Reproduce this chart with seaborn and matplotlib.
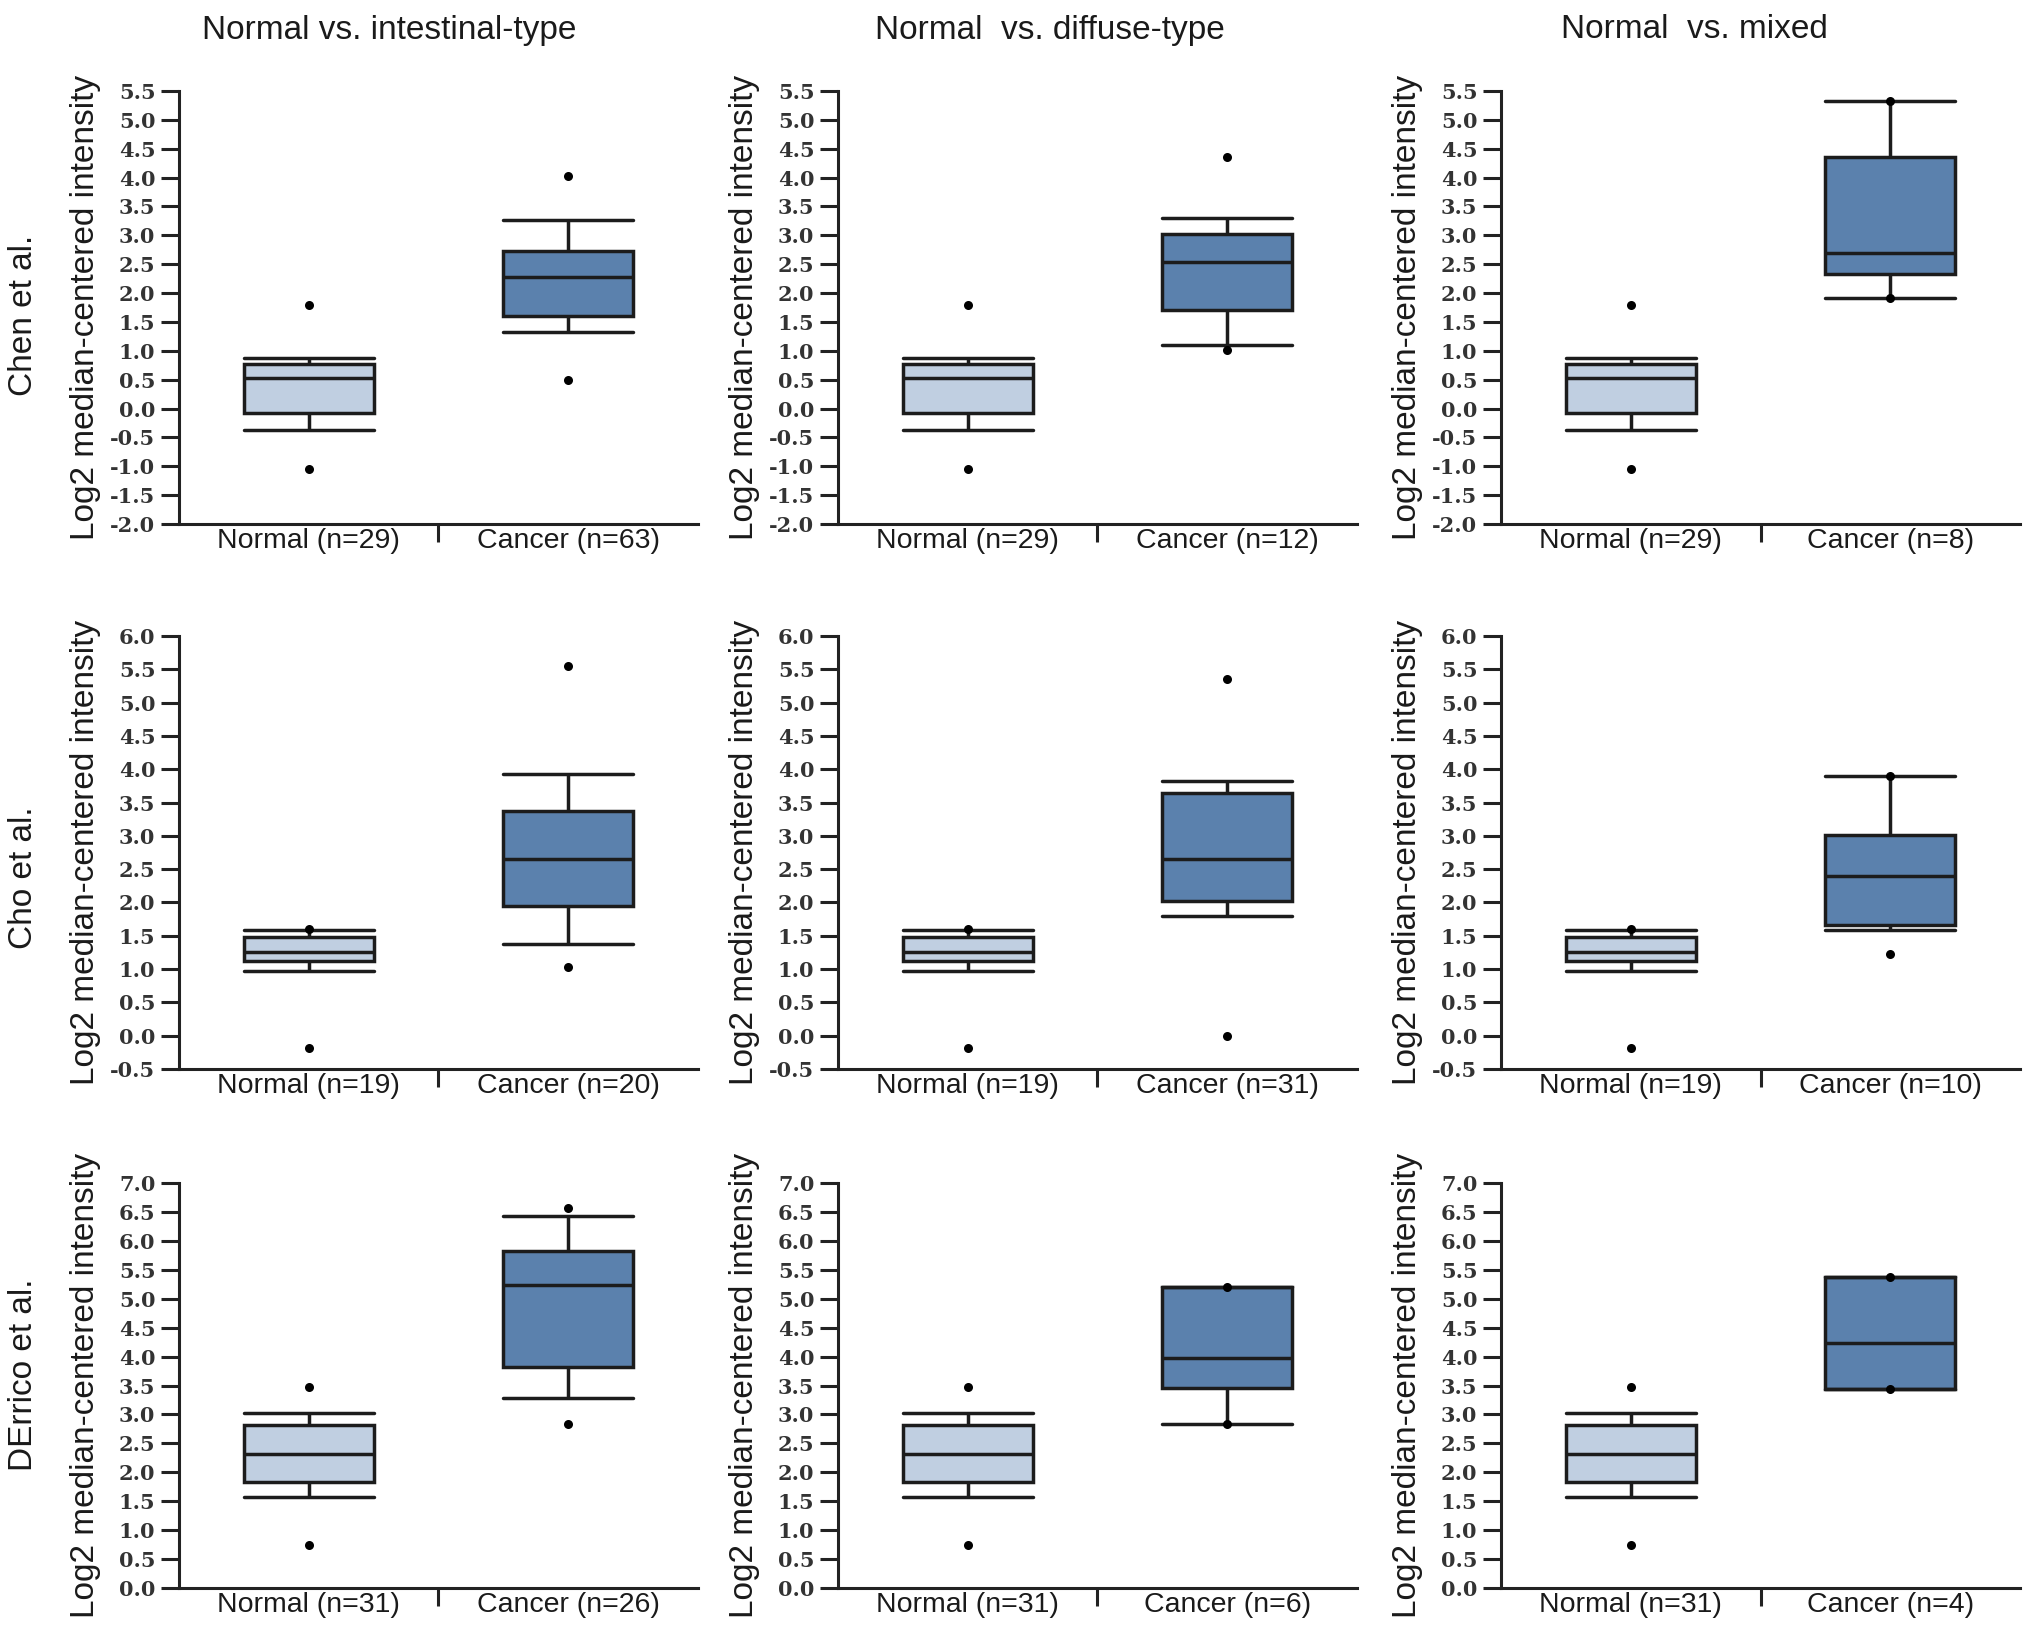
import numpy as np
import pandas as pd
import matplotlib
matplotlib.use("Agg")
import matplotlib.pyplot as plt
import seaborn as sns

# ---------------- data ----------------
groups = ["Normal", "Cancer"]
row_labels = ["Chen et al.", "Cho et al.", "DErrico et al."]
col_titles = ["Normal vs. intestinal-type", "Normal  vs. diffuse-type", "Normal  vs. mixed"]
y_label = "Log2 median-centered intensity"

# box summaries: [whisker low, Q1, median, Q3, whisker high]; extra points drawn as dots
chen_normal = [-0.38, -0.08, 0.53, 0.78, 0.88]
chen_normal_pts = [1.80, -1.05]
chen_intestinal = [1.32, 1.60, 2.27, 2.73, 3.27]
chen_intestinal_pts = [4.03, 0.50]
chen_diffuse = [1.10, 1.70, 2.54, 3.02, 3.30]
chen_diffuse_pts = [4.35, 1.02]
chen_mixed = [1.92, 2.33, 2.69, 4.35, 5.33]
chen_mixed_pts = [5.33, 1.92]

cho_normal = [0.97, 1.12, 1.26, 1.48, 1.58]
cho_normal_pts = [1.60, -0.19]
cho_intestinal = [1.37, 1.95, 2.65, 3.38, 3.93]
cho_intestinal_pts = [5.55, 1.03]
cho_diffuse = [1.80, 2.02, 2.65, 3.65, 3.83]
cho_diffuse_pts = [5.36, -0.01]
cho_mixed = [1.59, 1.66, 2.39, 3.02, 3.90]
cho_mixed_pts = [3.90, 1.22]

derrico_normal = [1.57, 1.84, 2.31, 2.81, 3.02]
derrico_normal_pts = [3.48, 0.75]
derrico_intestinal = [3.28, 3.82, 5.24, 5.83, 6.43]
derrico_intestinal_pts = [6.57, 2.83]
derrico_diffuse = [2.84, 3.46, 3.97, 5.21, 5.21]
derrico_diffuse_pts = [5.21, 2.84]
derrico_mixed = [3.44, 3.44, 4.24, 5.38, 5.38]
derrico_mixed_pts = [5.38, 3.44]

n_normal = [29, 19, 31]
n_cancer = [[63, 12, 8], [20, 31, 10], [26, 6, 4]]
y_ranges = [(-2.0, 5.5), (-0.5, 6.0), (0.0, 7.0)]

normal_rows = [(chen_normal, chen_normal_pts), (cho_normal, cho_normal_pts),
               (derrico_normal, derrico_normal_pts)]
cancer_rows = [
    [(chen_intestinal, chen_intestinal_pts), (chen_diffuse, chen_diffuse_pts), (chen_mixed, chen_mixed_pts)],
    [(cho_intestinal, cho_intestinal_pts), (cho_diffuse, cho_diffuse_pts), (cho_mixed, cho_mixed_pts)],
    [(derrico_intestinal, derrico_intestinal_pts), (derrico_diffuse, derrico_diffuse_pts),
     (derrico_mixed, derrico_mixed_pts)],
]

# ---------------- style ----------------
sns.set_style("ticks")
plt.rcParams["font.family"] = ["Liberation Sans", "DejaVu Sans"]

W, H = 2031, 1636
fig = plt.figure(figsize=(W / 100, H / 100), dpi=100)

c_normal = "#BACEE6"
c_cancer = "#4D80BB"
edge = "#1C1C1C"
axis_col = "#222222"

col_left_px = [179, 838, 1501]
ax_w_px = 519
row_px = [(91, 524), (636, 1069), (1183, 1588)]
row_label_y_px = [315, 878, 1375]
title_x_px = [389, 1050, 1694]

for r in range(3):
    top, bot = row_px[r]
    for c in range(3):
        ax = fig.add_axes([col_left_px[c] / W, 1 - bot / H, ax_w_px / W, (bot - top) / H])
        nb, npts = normal_rows[r]
        cb, cpts = cancer_rows[r][c]
        box_df = pd.DataFrame({"group": ["Normal"] * len(nb) + ["Cancer"] * len(cb),
                               "value": list(nb) + list(cb)})
        pts_df = pd.DataFrame({"group": ["Normal"] * len(npts) + ["Cancer"] * len(cpts),
                               "value": list(npts) + list(cpts)})
        sns.boxplot(data=box_df, x="group", y="value", hue="group", order=groups,
                    hue_order=groups, palette={"Normal": c_normal, "Cancer": c_cancer},
                    whis=(0, 100), width=0.5, linewidth=2.5, linecolor=edge,
                    showfliers=False, dodge=False, legend=False, ax=ax)
        # caps as wide as the boxes
        for ln in ax.lines:
            xd = np.asarray(ln.get_xdata(), float)
            yd = np.asarray(ln.get_ydata(), float)
            if len(xd) == 2 and yd[0] == yd[1] and xd[0] != xd[1]:
                cx = xd.mean()
                ln.set_xdata([cx - 0.25, cx + 0.25])
        sns.stripplot(data=pts_df, x="group", y="value", order=groups, jitter=False,
                      color="black", size=6.5, ax=ax, zorder=5)

        lo, hi = y_ranges[r]
        ax.set_xlim(-0.5, 1.5)
        ax.set_ylim(lo, hi)
        ticks = np.arange(lo, hi + 0.001, 0.5)
        ax.set_yticks(ticks)
        ax.set_yticklabels([f"{t:.1f}" for t in ticks], family="DejaVu Serif",
                           fontweight="bold", fontsize=15, color="#333333")
        ax.set_xticks([0, 1])
        ax.set_xticklabels([f"Normal (n={n_normal[r]})", f"Cancer (n={n_cancer[r][c]})"],
                           fontsize=20.5, color="#1a1a1a")
        ax.set_xticks([0.5], minor=True)
        ax.tick_params(axis="x", which="major", length=0, pad=3)
        ax.tick_params(axis="x", which="minor", length=13, width=2.2, color=axis_col,
                       direction="out")
        ax.tick_params(axis="y", which="major", length=13, width=2.2, color=axis_col,
                       direction="out", pad=4)
        ax.tick_params(axis="y", which="minor", length=0)
        ax.set_xlabel("")
        ax.set_ylabel(y_label, fontsize=24, va="center", color="#1a1a1a")
        ax.yaxis.set_label_coords(-0.181, 0.5)
        sns.despine(ax=ax)
        for s in ("left", "bottom"):
            ax.spines[s].set_linewidth(2.2)
            ax.spines[s].set_color(axis_col)

        if r == 0:
            fig.text(title_x_px[c] / W, 1 - 30 / H, col_titles[c], fontsize=24,
                     ha="center", va="center", color="#1a1a1a")
    fig.text(24 / W, 1 - row_label_y_px[r] / H, row_labels[r], fontsize=24,
             rotation=90, ha="center", va="center", color="#1a1a1a")

fig.savefig("out.png", dpi=100, facecolor="white")
